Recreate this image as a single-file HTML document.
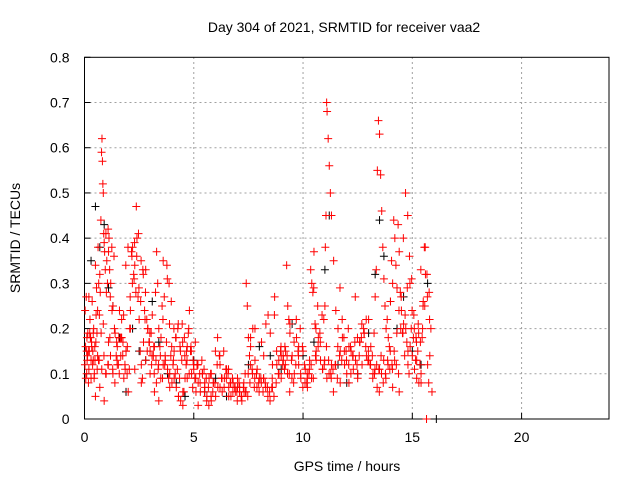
<!DOCTYPE html>
<html><head><meta charset="utf-8"><style>
body{margin:0;background:#fff;}
svg{display:block;font-family:"Liberation Sans",sans-serif;}
</style></head><body>
<svg id="chart" width="640" height="480" viewBox="0 0 640 480">
<rect width="640" height="480" fill="#fff"/>
<text x="344" y="32" font-size="14" text-anchor="middle">Day 304 of 2021, SRMTID for receiver vaa2</text>
<g id="grid"></g>
<g id="axes"></g>
<g id="black"></g>
<g id="red"></g>
<text transform="translate(20,238) rotate(-90)" font-size="14" text-anchor="middle">SRMTID / TECUs</text>
<text x="347" y="471" font-size="14" text-anchor="middle">GPS time / hours</text>
</svg>
<script>
const xTicks=[0,5,10,15,20];
const yTicks=[0,0.1,0.2,0.3,0.4,0.5,0.6,0.7,0.8];
const yTickLabels=["0","0.1","0.2","0.3","0.4","0.5","0.6","0.7","0.8"];
const redT=[0.02,0.05,0.08,0.1,0.12,0.15,0.18,0.2,0.22,0.25,0.28,0.3,0.32,0.35,0.38,0.4,0.42,0.45,0.48,0.5,0.52,0.55,0.58,0.6,0.62,0.65,0.68,0.7,0.72,0.75,0.78,0.8,0.82,0.84,0.86,0.88,0.9,0.92,0.95,0.98,1.0,1.02,1.05,1.08,1.1,1.12,1.15,1.18,1.2,1.25,1.3,1.35,1.4,1.45,1.5,1.55,1.6,1.65,1.7,1.75,1.8,1.85,1.9,1.95,2.0,2.05,2.1,2.15,2.2,2.25,2.3,2.35,2.4,2.45,2.5,2.55,2.6,2.65,2.7,2.75,2.8,2.85,2.9,2.95,3.0,3.05,3.1,3.15,3.2,3.25,3.3,3.35,3.4,3.45,3.5,3.55,3.6,3.65,3.7,3.75,3.8,3.85,3.9,3.95,4.0,4.05,4.1,4.15,4.2,4.25,4.3,4.35,4.4,4.45,4.5,4.55,4.6,4.65,4.7,4.75,4.8,4.85,4.9,4.95,5.0,5.05,5.1,5.15,5.2,5.3,5.4,5.5,5.6,5.7,5.8,5.9,6.0,6.1,6.2,6.3,6.4,6.5,6.6,6.7,6.8,6.9,7.0,7.1,7.2,7.3,7.35,7.4,7.45,7.5,7.55,7.6,7.7,7.8,7.9,8.0,8.1,8.2,8.3,8.4,8.5,8.6,8.7,8.8,8.9,9.0,9.1,9.15,9.2,9.25,9.3,9.35,9.4,9.5,9.6,9.7,9.8,9.9,10.0,10.1,10.2,10.3,10.35,10.4,10.45,10.5,10.55,10.6,10.7,10.8,10.9,10.95,11.0,11.02,11.05,11.08,11.1,11.15,11.2,11.25,11.3,11.4,11.5,11.6,11.7,11.8,11.9,12.0,12.1,12.2,12.3,12.4,12.5,12.6,12.7,12.8,12.9,13.0,13.1,13.2,13.25,13.3,13.35,13.4,13.45,13.5,13.55,13.6,13.65,13.7,13.75,13.8,13.85,13.9,13.95,14.0,14.05,14.1,14.15,14.2,14.25,14.3,14.35,14.4,14.45,14.5,14.55,14.6,14.65,14.7,14.75,14.8,14.85,14.9,14.95,15.0,15.05,15.1,15.15,15.2,15.25,15.3,15.35,15.4,15.45,15.5,15.55,15.6,15.65,15.7,15.75,15.8,15.85,15.9,
0.1,0.2,0.3,0.4,0.5,0.6,0.7,0.9,1.1,1.3,1.5,1.7,1.9,2.1,2.3,2.6,2.8,3.0,3.2,3.4,3.6,3.9,4.1,4.3,4.5,4.7,5.2,5.5,5.8,6.2,6.6,7.0,7.6,7.8,8.2,8.6,9.0,9.4,9.8,10.2,10.6,11.3,11.7,12.1,12.5,13.0,13.5,14.1,14.4,14.8,15.2,15.4,
0.06,0.14,0.24,0.33,0.44,0.53,0.64,0.76,0.86,0.97,1.07,1.16,1.26,1.37,1.47,1.57,1.66,1.76,1.86,1.96,2.07,2.17,2.27,2.37,2.47,2.57,2.67,2.77,2.87,2.97,3.07,3.17,3.27,3.37,3.47,3.57,3.67,3.77,3.87,3.97,4.07,4.17,4.27,4.37,4.47,4.57,4.67,4.77,4.87,4.97,5.07,5.17,5.27,5.37,5.47,5.57,5.67,5.77,5.87,5.97,6.07,6.17,6.27,6.37,6.47,6.57,6.67,6.77,6.87,6.97,7.07,7.17,7.27,7.37,7.47,7.57,7.67,7.77,7.87,7.97,8.07,8.17,8.27,8.37,8.47,8.57,8.67,8.77,8.87,8.97,9.07,9.17,9.27,9.37,9.47,9.57,9.67,9.77,9.87,9.97,10.07,10.17,10.27,10.37,10.47,10.57,10.67,10.77,10.87,10.97,11.07,11.17,11.27,11.37,11.47,11.57,11.67,11.77,11.87,11.97,12.07,12.17,12.27,12.37,12.47,12.57,12.67,12.77,12.87,12.97,13.07,13.17,13.27,13.37,13.47,13.57,13.67,13.77,13.87,13.97,14.07,14.17,14.27,14.37,14.47,14.57,14.67,14.77,14.87,14.97,15.07,15.17,15.27,15.37,15.47,15.57,15.67,15.77,
0.03,0.11,0.19,0.27,0.37,0.47,0.57,0.67,0.79,0.89,0.99,1.09,1.19,1.29,1.39,1.49,1.59,1.69,1.79,1.89,1.99,2.09,2.19,2.29,2.39,2.49,2.59,2.69,2.79,2.89,2.99,3.09,3.19,3.29,3.39,3.49,3.59,3.69,3.79,3.89,3.99,4.09,4.19,4.29,4.39,4.49,4.59,4.69,4.79,4.89,4.99,5.09,5.19,5.29,5.39,5.49,5.59,5.69,5.79,5.89,5.99,6.09,6.19,6.29,6.39,6.49,6.59,6.69,6.79,6.89,6.99,7.09,7.19,7.29,7.39,7.49,7.59,7.69,7.79,7.89,7.99,8.09,8.19,8.29,8.39,8.49,8.59,8.69,8.79,8.89,8.99,9.09,9.19,9.29,9.39,9.49,9.59,9.69,9.79,9.89,9.99,10.09,10.19,10.29,10.39,10.49,10.59,10.69,10.79,10.89,10.99,11.09,11.19,11.29,11.39,11.49,11.59,11.69,11.79,11.89,11.99,12.09,12.19,12.29,12.39,12.49,12.59,12.69,12.79,12.89,12.99,13.09,13.19,13.29,13.39,13.49,13.59,13.69,13.79,13.89,13.99,14.09,14.19,14.29,14.39,14.49,14.59,14.69,14.79,14.89,14.99,15.09,15.19,15.29,15.39,15.49,15.59,15.69,15.79];
const redV=[0.12,0.16,0.27,0.1,0.13,0.19,0.08,0.27,0.15,0.22,0.18,0.13,0.17,0.26,0.15,0.19,0.2,0.1,0.13,0.34,0.17,0.29,0.11,0.24,0.38,0.3,0.23,0.32,0.28,0.44,0.59,0.62,0.57,0.52,0.5,0.41,0.39,0.37,0.33,0.41,0.28,0.35,0.3,0.42,0.37,0.4,0.33,0.27,0.3,0.38,0.25,0.36,0.19,0.14,0.16,0.12,0.24,0.18,0.22,0.14,0.09,0.12,0.15,0.1,0.06,0.11,0.24,0.37,0.38,0.32,0.34,0.28,0.4,0.27,0.22,0.15,0.12,0.09,0.17,0.24,0.33,0.22,0.2,0.17,0.15,0.19,0.23,0.14,0.16,0.28,0.37,0.3,0.2,0.16,0.18,0.25,0.35,0.27,0.13,0.17,0.11,0.09,0.1,0.14,0.08,0.12,0.15,0.1,0.07,0.11,0.05,0.09,0.04,0.13,0.03,0.06,0.09,0.12,0.16,0.19,0.24,0.15,0.1,0.07,0.11,0.09,0.06,0.12,0.08,0.06,0.1,0.07,0.05,0.09,0.04,0.08,0.05,0.07,0.12,0.06,0.09,0.11,0.07,0.05,0.08,0.06,0.09,0.07,0.04,0.06,0.1,0.3,0.25,0.18,0.14,0.16,0.2,0.13,0.11,0.09,0.17,0.14,0.21,0.23,0.19,0.07,0.27,0.12,0.1,0.09,0.13,0.11,0.15,0.34,0.25,0.22,0.19,0.14,0.1,0.18,0.12,0.09,0.15,0.11,0.07,0.13,0.33,0.3,0.28,0.37,0.21,0.15,0.18,0.13,0.11,0.22,0.25,0.38,0.45,0.7,0.68,0.62,0.56,0.5,0.45,0.35,0.24,0.2,0.15,0.18,0.12,0.1,0.08,0.15,0.11,0.13,0.09,0.17,0.12,0.19,0.14,0.22,0.16,0.1,0.19,0.27,0.33,0.55,0.66,0.63,0.54,0.46,0.38,0.31,0.25,0.2,0.22,0.18,0.16,0.26,0.35,0.3,0.44,0.4,0.34,0.29,0.43,0.37,0.28,0.24,0.19,0.21,0.14,0.2,0.17,0.12,0.1,0.16,0.2,0.14,0.18,0.11,0.13,0.09,0.15,0.08,0.12,0.1,0.18,0.26,0.38,0.32,0.0,
0.12,0.08,0.14,0.2,0.06,0.15,0.11,0.09,0.13,0.05,0.14,0.07,0.04,0.17,0.1,0.12,0.18,0.15,0.2,0.11,0.08,0.13,0.1,0.06,0.04,0.12,0.07,0.09,0.05,0.06,0.09,0.03,0.08,0.1,0.07,0.05,0.07,0.18,0.2,0.09,0.12,0.14,0.21,0.16,0.09,0.13,0.12,0.08,0.16,0.1,0.13,0.11,0.07,0.06,0.15,0.13,0.08,0.09,0.14,0.19,0.16,0.09,0.23,0.13,0.19,0.21,0.1,0.12,0.18,0.24,0.2,0.17,
0.18,0.14,0.17,0.11,0.16,0.2,0.36,0.31,0.47,0.41,0.26,0.33,0.22,0.15,0.17,0.12,0.16,0.13,0.11,0.14,0.09,0.12,0.34,0.3,0.26,0.13,0.18,0.2,0.16,0.21,0.18,0.15,0.2,0.16,0.13,0.17,0.12,0.1,0.13,0.11,0.09,0.07,0.1,0.06,0.08,0.12,0.14,0.09,0.15,0.11,0.1,0.08,0.09,0.07,0.06,0.08,0.05,0.07,0.06,0.05,0.08,0.11,0.07,0.1,0.08,0.09,0.06,0.08,0.07,0.06,0.07,0.05,0.08,0.1,0.15,0.12,0.16,0.14,0.1,0.13,0.08,0.12,0.15,0.2,0.16,0.12,0.08,0.1,0.12,0.09,0.14,0.25,0.19,0.23,0.12,0.16,0.13,0.1,0.11,0.12,0.09,0.14,0.13,0.18,0.15,0.2,0.16,0.14,0.17,0.12,0.14,0.18,0.2,0.16,0.13,0.12,0.14,0.1,0.12,0.11,0.14,0.08,0.1,0.13,0.11,0.12,0.15,0.12,0.1,0.2,0.19,0.23,0.29,0.36,0.31,0.23,0.18,0.21,0.17,0.2,0.25,0.32,0.28,0.24,0.18,0.15,0.18,0.12,0.16,0.19,0.13,0.11,0.14,0.1,0.12,0.14,0.11,
0.08,0.13,0.1,0.18,0.23,0.34,0.38,0.27,0.3,0.39,0.36,0.29,0.35,0.32,0.28,0.2,0.19,0.14,0.1,0.08,0.12,0.09,0.22,0.14,0.31,0.21,0.16,0.2,0.18,0.21,0.15,0.17,0.14,0.13,0.1,0.15,0.12,0.09,0.12,0.08,0.1,0.06,0.04,0.03,0.05,0.08,0.15,0.18,0.14,0.09,0.07,0.09,0.11,0.08,0.06,0.07,0.04,0.06,0.05,0.08,0.06,0.1,0.12,0.1,0.09,0.07,0.06,0.08,0.09,0.07,0.05,0.04,0.09,0.23,0.15,0.13,0.16,0.14,0.12,0.1,0.06,0.09,0.17,0.22,0.14,0.1,0.07,0.08,0.1,0.11,0.09,0.29,0.2,0.16,0.17,0.11,0.13,0.09,0.1,0.09,0.06,0.12,0.16,0.29,0.22,0.15,0.13,0.12,0.1,0.14,0.27,0.18,0.17,0.21,0.19,0.22,0.15,0.12,0.09,0.11,0.07,0.06,0.1,0.13,0.09,0.12,0.15,0.11,0.13,0.19,0.24,0.27,0.4,0.5,0.45,0.3,0.24,0.2,0.17,0.19,0.33,0.25,0.38,0.27,0.22,0.17,0.12,0.09,0.15,0.1,0.13,0.08,0.11,0.07,0.1,0.05];
const blackT=[0.3,0.5,0.7,0.9,1.1,1.3,1.6,1.9,2.2,2.5,2.8,3.1,3.4,3.8,4.2,4.6,5.0,5.5,6.0,6.5,7.0,7.5,8.0,8.5,9.0,9.5,10.0,10.5,11.0,11.2,11.6,12.0,12.5,13.0,13.3,13.5,13.7,14.0,14.3,14.6,15.0,15.4,15.7,16.1];
const blackV=[0.35,0.47,0.38,0.43,0.29,0.25,0.18,0.06,0.2,0.15,0.13,0.26,0.17,0.1,0.08,0.05,0.13,0.06,0.09,0.05,0.07,0.12,0.16,0.14,0.11,0.21,0.14,0.17,0.33,0.45,0.12,0.08,0.1,0.19,0.32,0.44,0.36,0.26,0.2,0.27,0.15,0.12,0.3,0.0];
const NS='http://www.w3.org/2000/svg';
const X0=84.5,X1=609,Y0=419,Y1=57.3;
function xs(t){return X0+(X1-X0)*t/24;}
function ys(v){return Y0+(Y1-Y0)*v/0.8;}
function mk(tag,attrs,parent){const e=document.createElementNS(NS,tag);for(const k in attrs)e.setAttribute(k,attrs[k]);parent.appendChild(e);return e;}
const grid=document.getElementById('grid'),axes=document.getElementById('axes');
xTicks.forEach((t,i)=>{
  if(t>0){const g=mk('line',{x1:xs(t),x2:xs(t),y1:Y0,y2:Y1,stroke:'#a0a0a0','stroke-dasharray':'2,3'},grid);
  
  }
  const tk=mk('line',{x1:xs(t),x2:xs(t),y1:Y0,y2:Y0-6,stroke:'#000'},axes);
  
  
  const tx=mk('text',{x:xs(t),y:Y0+23,'font-size':14,'text-anchor':'middle'},axes);tx.textContent=String(t);
  
  
});
yTicks.forEach((v,i)=>{
  if(v>0&&v<0.8){const g=mk('line',{x1:X0,x2:X1,y1:ys(v),y2:ys(v),stroke:'#a0a0a0','stroke-dasharray':'2,3'},grid);
  
  }
  const tk=mk('line',{x1:X0,x2:X0+6,y1:ys(v),y2:ys(v),stroke:'#000'},axes);
  
  
  const tx=mk('text',{x:X0-15,y:ys(v)+5,'font-size':14,'text-anchor':'end'},axes);tx.textContent=yTickLabels[i];
  
  
});
const frame=mk('rect',{x:X0,y:Y1,width:X1-X0,height:Y0-Y1,fill:'none',stroke:'#000'},axes);


function plus(g,t,v,col){const x=xs(t),y=ys(v);
  const p=mk('path',{d:`M${x-4} ${y}H${x+4}M${x} ${y-4}V${y+4}`,stroke:col,'stroke-width':1,fill:'none'},g);
  
  }
const bg=document.getElementById('black'),rg=document.getElementById('red');
blackT.forEach((t,i)=>plus(bg,t,blackV[i],'#000'));
redT.forEach((t,i)=>plus(rg,t,redV[i],'#f00'));
</script>
</body></html>
